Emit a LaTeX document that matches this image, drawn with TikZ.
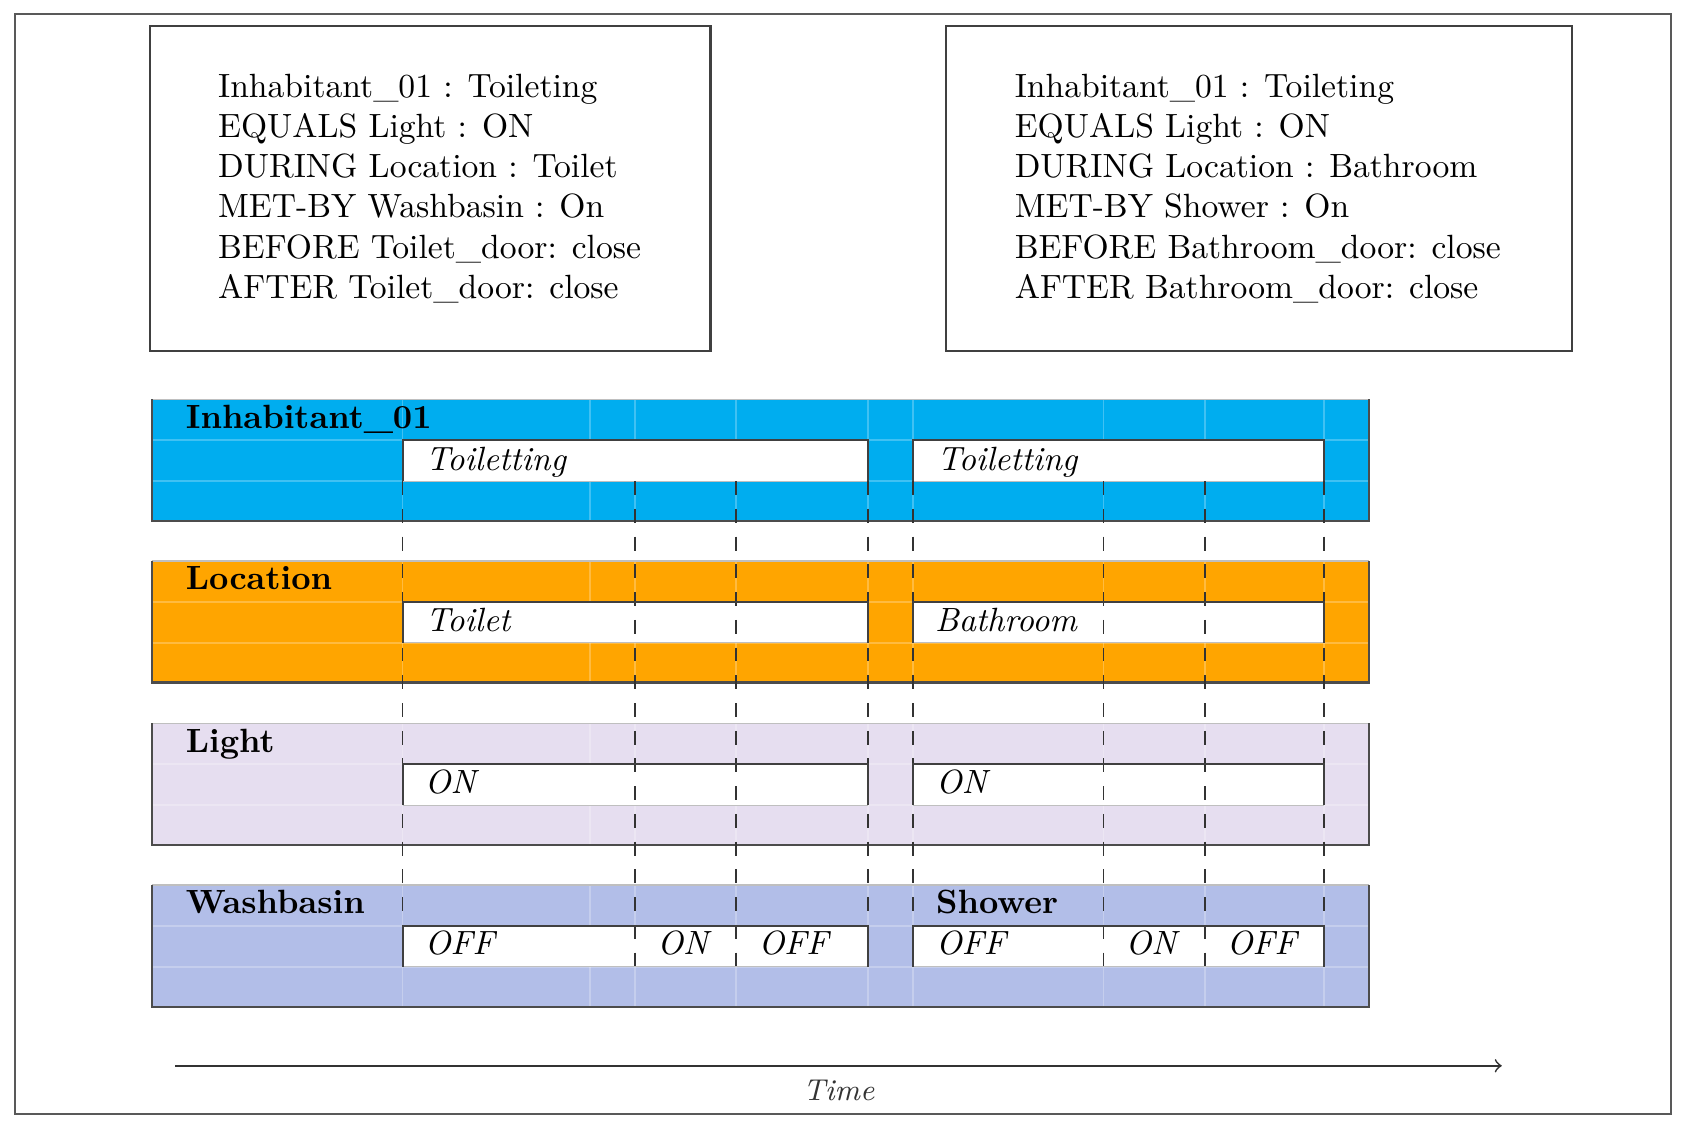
\documentclass[tikz,border=0pt]{standalone}
\usepackage{fontspec}
\definecolor{inhcol}{RGB}{0,173,239}
\definecolor{loccol}{RGB}{255,165,0}
\definecolor{ligcol}{RGB}{230,222,240}
\definecolor{wascol}{RGB}{178,190,232}
\tikzset{
  framebox/.style={draw=black!75, line width=0.6pt},
  bandedge/.style={draw=black!70, line width=0.6pt},
  bandtop/.style={draw=black!25, line width=0.4pt},
  gridln/.style={draw=white, opacity=0.25, line width=0.5pt},
  ivedge/.style={draw=black!75, line width=0.6pt},
  ivbottom/.style={draw=black!25, line width=0.4pt},
  title/.style={anchor=base west, font=\fontsize{9.7}{12}\selectfont\bfseries, inner sep=0pt},
  ivlab/.style={anchor=base west, font=\fontsize{9.7}{12}\selectfont\itshape, inner sep=0pt},
  rulelab/.style={anchor=north west, align=left, inner sep=0pt, font=\fontsize{9.7}{11.6}\selectfont},
  tick/.style={draw=black!80, line width=0.5pt, dash pattern=on 4pt off 4pt},
}
\begin{document}
\begin{tikzpicture}[x=0.3106pt,y=-0.3106pt]
\useasboundingbox (0,0) rectangle (1568,1053);
% outer frame
\draw[draw=black!65, line width=0.6pt] (14,13) rectangle (1552,1035);
% rule boxes
\draw[framebox] (139,24) rectangle (660,326);
\node[rulelab] (r1) at (202,68) {Inhabitant\_01 : Toileting\\EQUALS Light : ON\\DURING Location : Toilet\\MET-BY Washbasin : On\\BEFORE Toilet\_door: close\\AFTER Toilet\_door: close};
\draw[framebox] (879,24) rectangle (1460,326);
\node[rulelab] (r2) at (942,68) {Inhabitant\_01 : Toileting\\EQUALS Light : ON\\DURING Location : Bathroom\\MET-BY Shower : On\\BEFORE Bathroom\_door: close\\AFTER Bathroom\_door: close};
% bands
\foreach \y/\c in {371/inhcol,521/loccol,672/ligcol,822/wascol}{
  \fill[\c] (141,\y) rectangle (1272,\y+113);
  \foreach \x in {374,548,590,684,806,848,1025,1119,1230}{
    \draw[gridln] (\x,\y) -- (\x,\y+113);
  }
  \draw[gridln] (141,\y+38) -- (1272,\y+38);
  \draw[gridln] (141,\y+76) -- (1272,\y+76);
  \fill[white] (374,\y+38) rectangle (806,\y+76);
  \fill[white] (848,\y+38) rectangle (1230,\y+76);
  \draw[ivbottom] (374,\y+76) -- (806,\y+76);
  \draw[ivbottom] (848,\y+76) -- (1230,\y+76);
  \draw[bandtop] (141,\y) -- (1272,\y);
  \draw[bandedge] (141,\y) -- (141,\y+113) -- (1272,\y+113) -- (1272,\y);
}
% dashed time marks
\foreach \x [count=\i] in {374,590,684,806,848,1025,1119,1230}{
  \coordinate (dt\i) at (\x,447);
  \coordinate (db\i) at (\x,897);
  \draw[tick] (dt\i) -- (db\i);
}
% interval box edges
\foreach \y in {371,521,672,822}{
  \draw[ivedge] (374,\y+76) -- (374,\y+38) -- (806,\y+38) -- (806,\y+76);
  \draw[ivedge] (848,\y+76) -- (848,\y+38) -- (1230,\y+38) -- (1230,\y+76);
}
% titles
\node[title] (tInh) at (172,398) {Inhabitant\_01};
\node[title] (tLoc) at (172,548) {Location};
\node[title] (tLig) at (172,699) {Light};
\node[title] (tWas) at (172,849) {Washbasin};
\node[title] (tSho) at (869,849) {Shower};
% interval labels
\node[ivlab] (i1) at (395,437) {Toiletting};
\node[ivlab] (i2) at (870,437) {Toiletting};
\node[ivlab] (l1) at (395,587) {Toilet};
\node[ivlab] (l2) at (868,587) {Bathroom};
\node[ivlab] (g1) at (394,737) {ON};
\node[ivlab] (g2) at (869,737) {ON};
\node[ivlab] (w1) at (394,887) {OFF};
\node[ivlab] (w2) at (610,887) {ON};
\node[ivlab] (w3) at (704,887) {OFF};
\node[ivlab] (s1) at (869,887) {OFF};
\node[ivlab] (s2) at (1045,887) {ON};
\node[ivlab] (s3) at (1139,887) {OFF};
% time axis
\coordinate (ts) at (163,990);
\coordinate (te) at (1395,990);
\draw[black!80, line width=0.5pt, ->] (ts) -- (te) node[midway, below=4pt, font=\fontsize{8.7}{12}\selectfont\itshape, inner sep=0pt] (tl) {Time};
\end{tikzpicture}
\end{document}
